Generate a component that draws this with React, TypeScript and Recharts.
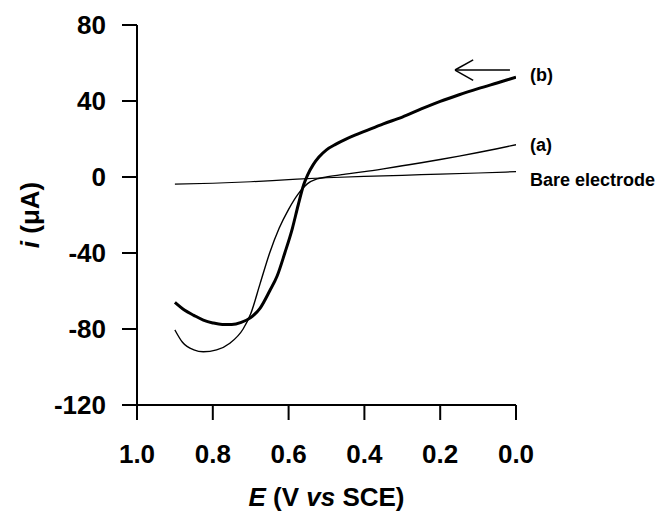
import React from 'react';
import { LineChart, Line, XAxis, YAxis, ReferenceLine, ReferenceDot } from 'recharts';

// Curve (a): thin line
const potentialA = [0.9, 0.88, 0.85, 0.825, 0.79, 0.755, 0.72, 0.7, 0.675, 0.65, 0.625, 0.6, 0.575, 0.55, 0.525, 0.5, 0.45, 0.4, 0.35, 0.3, 0.25, 0.2, 0.15, 0.1, 0.05, 0.0];
const currentA = [-80.5, -87, -91, -92, -91, -87.5, -80, -72, -56, -40, -27, -17, -9, -3.5, -1, 0, 1.5, 2.8, 4.3, 5.9, 7.5, 9.2, 11, 12.9, 14.9, 17];

// Curve (b): thick line
const potentialB = [0.9, 0.875, 0.85, 0.825, 0.8, 0.775, 0.75, 0.725, 0.7, 0.675, 0.65, 0.63, 0.61, 0.59, 0.575, 0.56, 0.55, 0.535, 0.52, 0.5, 0.475, 0.45, 0.425, 0.4, 0.35, 0.3, 0.25, 0.2, 0.15, 0.1, 0.05, 0.0];
const currentB = [-66, -70, -72.8, -75.3, -76.8, -77.6, -77.6, -76.5, -74, -69, -60, -52, -40, -27, -15, -4, 1, 6.5, 10.5, 14.3, 17.3, 19.8, 22, 24, 28, 31.5, 35.8, 39.8, 43.3, 46.5, 49.5, 52.5];

// Bare electrode
const potentialBare = [0.9, 0.8, 0.7, 0.6, 0.5, 0.4, 0.3, 0.2, 0.1, 0.0];
const currentBare = [-3.8, -3.3, -2.5, -1.4, -0.4, 0.3, 0.9, 1.5, 2.1, 2.8];

const xTicks = [1.0, 0.8, 0.6, 0.4, 0.2, 0.0];
const yTicks = [-120, -80, -40, 0, 40, 80];

const seriesLabels = [
  { name: '(b)', E: 0, i: 53.7 },
  { name: '(a)', E: 0, i: 16.8 },
  { name: 'Bare electrode', E: 0, i: -1.6 },
];

// scan direction arrow (data coordinates)
const arrowTail = { E: 0.016, i: 56.3 };
const arrowTip = { E: 0.161, i: 56.3 };
const arrowWingUp = { E: 0.113, i: 61.6 };
const arrowWingDown = { E: 0.113, i: 50.9 };

const zip = (es: number[], is: number[]) => es.map((E, k) => ({ E, i: is[k] }));
const dataA = zip(potentialA, currentA);
const dataB = zip(potentialB, currentB);
const dataBare = zip(potentialBare, currentBare);

const FONT = '"Liberation Sans", Arial, Helvetica, sans-serif';

const YLabel = (props: any) => {
  const vb = props.viewBox || { x: 0, y: 0, width: 0, height: 0 };
  const cx = vb.x + 30;
  const cy = vb.y + vb.height / 2;
  return (
    <text
      x={cx}
      y={cy}
      transform={`rotate(-90 ${cx} ${cy})`}
      textAnchor="middle"
      dominantBaseline="central"
      fontFamily={FONT}
      fontWeight="bold"
      fontSize={26}
      fill="#000"
    >
      <tspan fontStyle="italic">i</tspan>
      <tspan> (μA)</tspan>
    </text>
  );
};

const XLabel = (props: any) => {
  const vb = props.viewBox || { x: 0, y: 0, width: 0, height: 0 };
  const cx = vb.x + vb.width / 2;
  return (
    <text
      x={cx}
      y={vb.y + 101}
      textAnchor="middle"
      fontFamily={FONT}
      fontWeight="bold"
      fontSize={26}
      fill="#000"
    >
      <tspan fontStyle="italic">E</tspan>
      <tspan> (V </tspan>
      <tspan fontStyle="italic">vs</tspan>
      <tspan> SCE)</tspan>
    </text>
  );
};

export default function App() {
  return (
    <div style={{ position: 'absolute', left: 0, top: 0, width: 661, height: 520, background: '#fff' }}>
      <LineChart
        width={661}
        height={520}
        margin={{ top: 25, right: 145, bottom: 55, left: 0 }}
      >
        <XAxis
          dataKey="E"
          type="number"
          domain={[0, 1]}
          reversed
          ticks={xTicks}
          tickFormatter={(v: number) => v.toFixed(1)}
          allowDataOverflow
          height={60}
          tickSize={15}
          tickMargin={25}
          axisLine={{ stroke: '#000', strokeWidth: 2 }}
          tickLine={{ stroke: '#000', strokeWidth: 2 }}
          tick={{ fill: '#000', fontSize: 26, fontWeight: 'bold', fontFamily: FONT }}
          label={{ content: XLabel }}
        />
        <YAxis
          type="number"
          domain={[-120, 80]}
          ticks={yTicks}
          allowDataOverflow
          width={137}
          tickSize={15}
          tickMargin={16}
          axisLine={{ stroke: '#000', strokeWidth: 2 }}
          tickLine={{ stroke: '#000', strokeWidth: 2 }}
          tick={{ fill: '#000', fontSize: 26, fontWeight: 'bold', fontFamily: FONT }}
          label={{ content: YLabel }}
        />
        <Line
          data={dataBare}
          dataKey="i"
          type="monotone"
          stroke="#000"
          strokeWidth={1.2}
          dot={false}
          isAnimationActive={false}
        />
        <Line
          data={dataA}
          dataKey="i"
          type="monotone"
          stroke="#000"
          strokeWidth={1.4}
          dot={false}
          isAnimationActive={false}
        />
        <Line
          data={dataB}
          dataKey="i"
          type="monotone"
          stroke="#000"
          strokeWidth={3}
          dot={false}
          isAnimationActive={false}
        />
        <ReferenceLine
          segment={[{ x: arrowTail.E, y: arrowTail.i }, { x: arrowTip.E, y: arrowTip.i }]}
          stroke="#000"
          strokeWidth={1.5}
          ifOverflow="visible"
        />
        <ReferenceLine
          segment={[{ x: arrowWingUp.E, y: arrowWingUp.i }, { x: arrowTip.E, y: arrowTip.i }]}
          stroke="#000"
          strokeWidth={1.5}
          ifOverflow="visible"
        />
        <ReferenceLine
          segment={[{ x: arrowWingDown.E, y: arrowWingDown.i }, { x: arrowTip.E, y: arrowTip.i }]}
          stroke="#000"
          strokeWidth={1.5}
          ifOverflow="visible"
        />
        {seriesLabels.map((s) => (
          <ReferenceDot
            key={s.name}
            x={s.E}
            y={s.i}
            r={0}
            fill="none"
            stroke="none"
            ifOverflow="visible"
            label={{
              value: s.name,
              position: 'right',
              offset: 14,
              fill: '#000',
              fontSize: 18,
              fontWeight: 'bold',
              fontFamily: FONT,
            }}
          />
        ))}
      </LineChart>
    </div>
  );
}
